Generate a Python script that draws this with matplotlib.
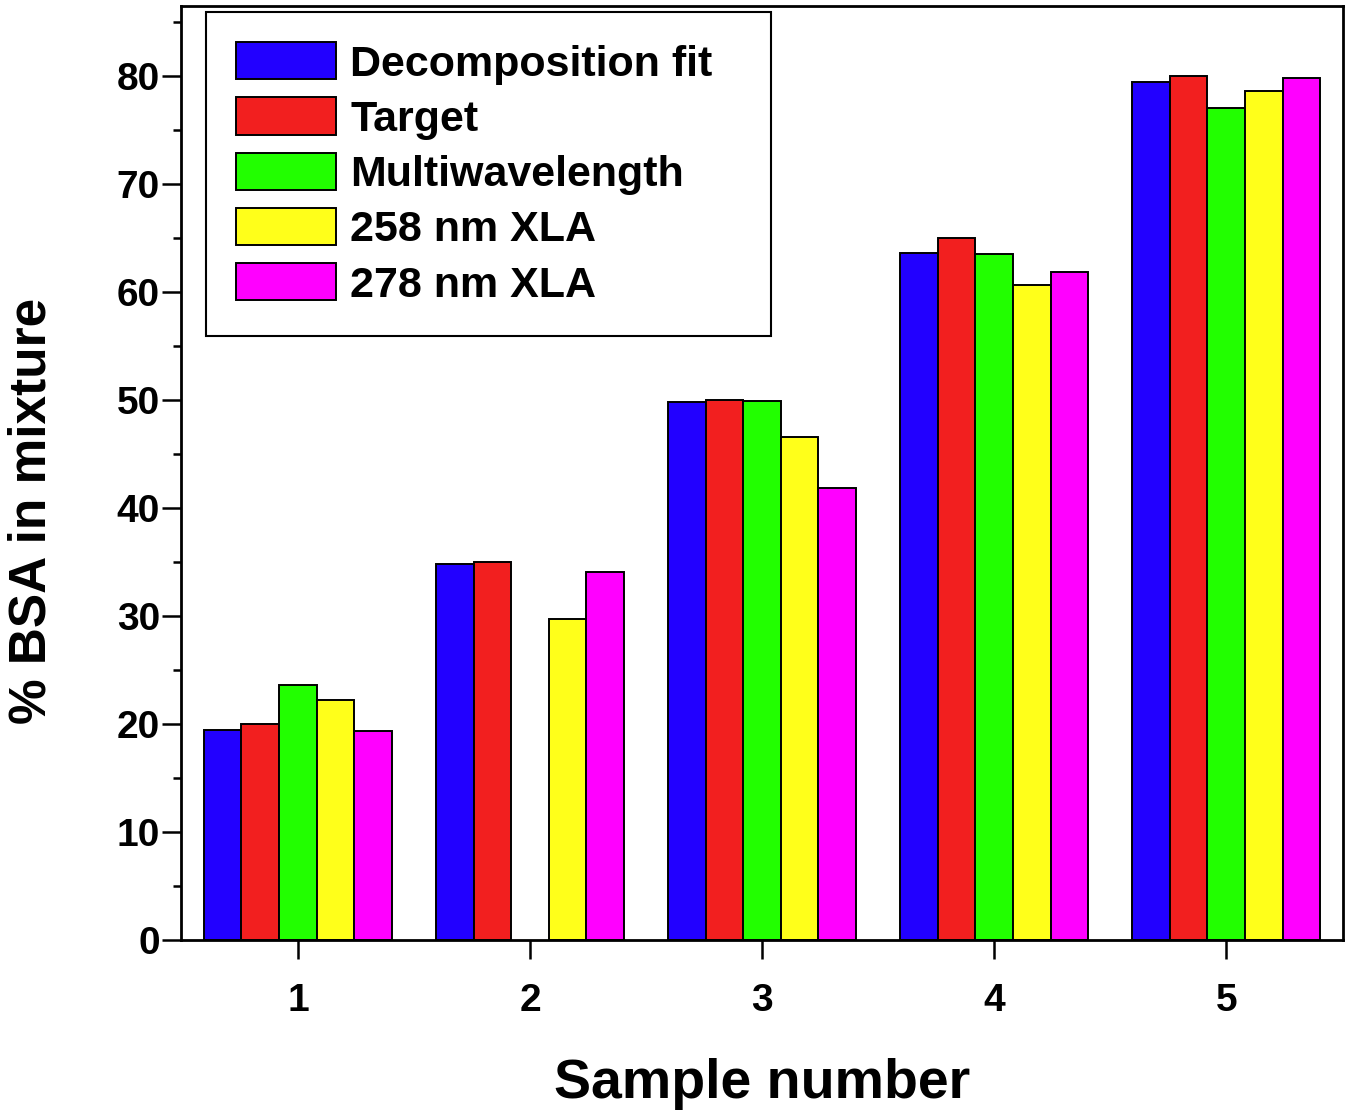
import numpy as np
import matplotlib
matplotlib.use("Agg")
import matplotlib.pyplot as plt

plt.rcParams['font.family'] = ['Liberation Sans', 'DejaVu Sans']
plt.rcParams['font.weight'] = 'bold'

samples = [1, 2, 3, 4, 5]
series = ["Decomposition fit", "Target", "Multiwavelength",
          "258 nm XLA", "278 nm XLA"]
decomposition = [19.5, 34.8, 49.8, 63.6, 79.5]
target = [20.0, 35.0, 50.0, 65.0, 80.0]
multiwave = [23.6, 0.0, 49.9, 63.5, 77.1]
xla_258 = [22.2, 29.7, 46.6, 60.7, 78.6]
xla_278 = [19.4, 34.1, 41.9, 61.9, 79.8]
colors = ["#2200ff", "#f21f1f", "#22ff00", "#ffff1a", "#ff00ff"]

values = [decomposition, target, multiwave, xla_258, xla_278]

fig = plt.figure(figsize=(13.5, 11.1), dpi=100)
ax = fig.add_axes([0.134, 0.153, 0.861, 0.8416])

x = np.array(samples, dtype=float)
w = 0.162
for i, (name, vals, c) in enumerate(zip(series, values, colors)):
    v = np.array(vals)
    offs = x + (i - 2) * w
    # missing multiwavelength value for sample 2 is not drawn
    mask = v > 0
    ax.bar(offs[mask], v[mask], width=w, color=c, edgecolor="black",
           linewidth=1.4, label=name)

ax.set_xlim(0.496, 5.504)
ax.set_ylim(0, 86.5)
ax.set_xticks(samples)
ax.set_yticks(range(0, 81, 10))
ax.set_yticks(range(5, 86, 10), minor=True)
ax.tick_params(axis="both", which="major", direction="out", length=14,
               width=1.8, labelsize=28)
ax.tick_params(axis="y", which="minor", direction="out", length=6, width=1.8)
ax.tick_params(axis="x", which="major", pad=17)
ax.tick_params(axis="y", which="major", pad=1)
for sp in ax.spines.values():
    sp.set_linewidth(2)

ax.set_xlabel("Sample number", fontsize=40, fontweight="bold", labelpad=28)
ax.set_ylabel("% BSA in mixture", fontsize=37, fontweight="bold")
ax.yaxis.set_label_coords(-0.107, 0.46)

leg = ax.legend(loc="upper left",
                bbox_to_anchor=(206 / 1350, 1 - 12 / 1110, 565 / 1350, 0),
                bbox_transform=fig.transFigure, mode="expand", borderaxespad=0,
                handlelength=2.32, handleheight=0.95,
                labelspacing=0.3, handletextpad=0.33, borderpad=0.7,
                fancybox=False, framealpha=1, edgecolor="black",
                prop={"weight": "bold", "size": 31})
leg.get_frame().set_linewidth(1.5)

fig.savefig("out.png", dpi=100)
